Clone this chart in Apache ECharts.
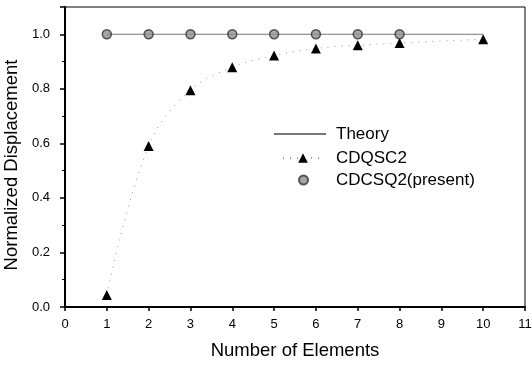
<!DOCTYPE html>
<html>
<head>
<meta charset="utf-8">
<script src="https://cdn.jsdelivr.net/npm/echarts@6/dist/echarts.min.js"></script>
<style>html,body{margin:0;padding:0;background:#fff;}#c{width:532px;height:365px;}</style>
</head>
<body>
<div id="c"></div>
<script>
// Data
var theoryX = [1, 10];
var theoryY = [1.0, 1.0];
var cdqscX = [1, 2, 3, 4, 5, 6, 7, 8, 10];
var cdqscY = [0.044, 0.59, 0.795, 0.879, 0.922, 0.948, 0.96, 0.968, 0.982];
var cdcsqX = [1, 2, 3, 4, 5, 6, 7, 8];
var cdcsqY = [1.0, 1.0, 1.0, 1.0, 1.0, 1.0, 1.0, 1.0];
var xTicks = [0, 1, 2, 3, 4, 5, 6, 7, 8, 9, 10, 11];
var yTicks = [0.0, 0.2, 0.4, 0.6, 0.8, 1.0];

function zip(a, b) { return a.map(function (v, i) { return [v, b[i]]; }); }

var font = 'Liberation Sans, Arial, Helvetica, sans-serif';
var legText = function (pad) {
  return {fontFamily: font, fontSize: 17, color: '#000', lineHeight: 20, padding: [0, 0, 0, pad]};
};
var chart = echarts.init(document.getElementById('c'), null, {renderer: 'canvas'});
chart.setOption({
  animation: false,
  backgroundColor: '#fff',
  grid: {left: 65, right: 7, top: 7, bottom: 58, containLabel: false, outerBoundsMode: 'none',
    show: true, borderColor: '#000', borderWidth: 1, backgroundColor: 'transparent'},
  legend: [
    {left: 273, top: 124, padding: 0, itemWidth: 52, itemHeight: 10, textStyle: legText(5), data: ['Theory']},
    {left: 282, top: 148, padding: 0, itemWidth: 40, itemHeight: 12, textStyle: legText(8), data: ['CDQSC2']},
    {left: 298, top: 170, padding: 0, itemWidth: 9, itemHeight: 9, textStyle: legText(23), data: ['CDCSQ2(present)']}
  ],
  xAxis: {
    type: 'value', min: 0, max: 11, interval: 1,
    name: 'Number of Elements', nameLocation: 'middle', nameGap: 34,
    nameTextStyle: {fontFamily: font, fontSize: 18.5, color: '#000'},
    axisLine: {show: true, onZero: false, lineStyle: {color: '#000', width: 2}},
    axisTick: {show: true, inside: false, length: 4, lineStyle: {color: '#000', width: 1.5}},
    axisLabel: {fontFamily: font, fontSize: 13, color: '#000', margin: 11,
      formatter: function (v) { return xTicks.indexOf(v) >= 0 ? String(v) : ''; }},
    splitLine: {show: false}
  },
  yAxis: {
    type: 'value', min: 0, max: 1.1, interval: 0.2,
    name: 'Normalized Displacement', nameLocation: 'middle', nameGap: 40,
    nameTextStyle: {fontFamily: font, fontSize: 18.5, color: '#000', padding: [0, 16, 0, 0]},
    axisLine: {show: true, onZero: false, lineStyle: {color: '#000', width: 2}},
    axisTick: {show: true, inside: false, length: 5, lineStyle: {color: '#000', width: 1.5}},
    minorTick: {show: true, splitNumber: 2, length: 3, lineStyle: {color: '#000', width: 1}},
    axisLabel: {fontFamily: font, fontSize: 13, color: '#000', margin: 15, showMaxLabel: false,
      formatter: function (v) {
        for (var i = 0; i < yTicks.length; i++) { if (Math.abs(yTicks[i] - v) < 1e-6) return yTicks[i].toFixed(1); }
        return '';
      }},
    splitLine: {show: false}
  },
  series: [
    {
      name: 'Theory', type: 'line', data: zip(theoryX, theoryY), showSymbol: false, symbol: 'none',
      lineStyle: {color: '#777', width: 1}, itemStyle: {color: 'rgba(0,0,0,0)', borderWidth: 0}, z: 2
    },
    {
      name: 'CDQSC2', type: 'line', data: zip(cdqscX, cdqscY), smooth: 0.4,
      symbol: 'triangle', symbolSize: 10,
      lineStyle: {color: '#999', width: 1, type: [1, 6]},
      itemStyle: {color: '#000'}, z: 3
    },
    {
      name: 'CDCSQ2(present)', type: 'scatter', data: zip(cdcsqX, cdcsqY),
      symbol: 'circle', symbolSize: 9,
      itemStyle: {color: '#909090', borderColor: '#333', borderWidth: 1.5}, z: 4
    }
  ]
});
</script>
</body>
</html>
